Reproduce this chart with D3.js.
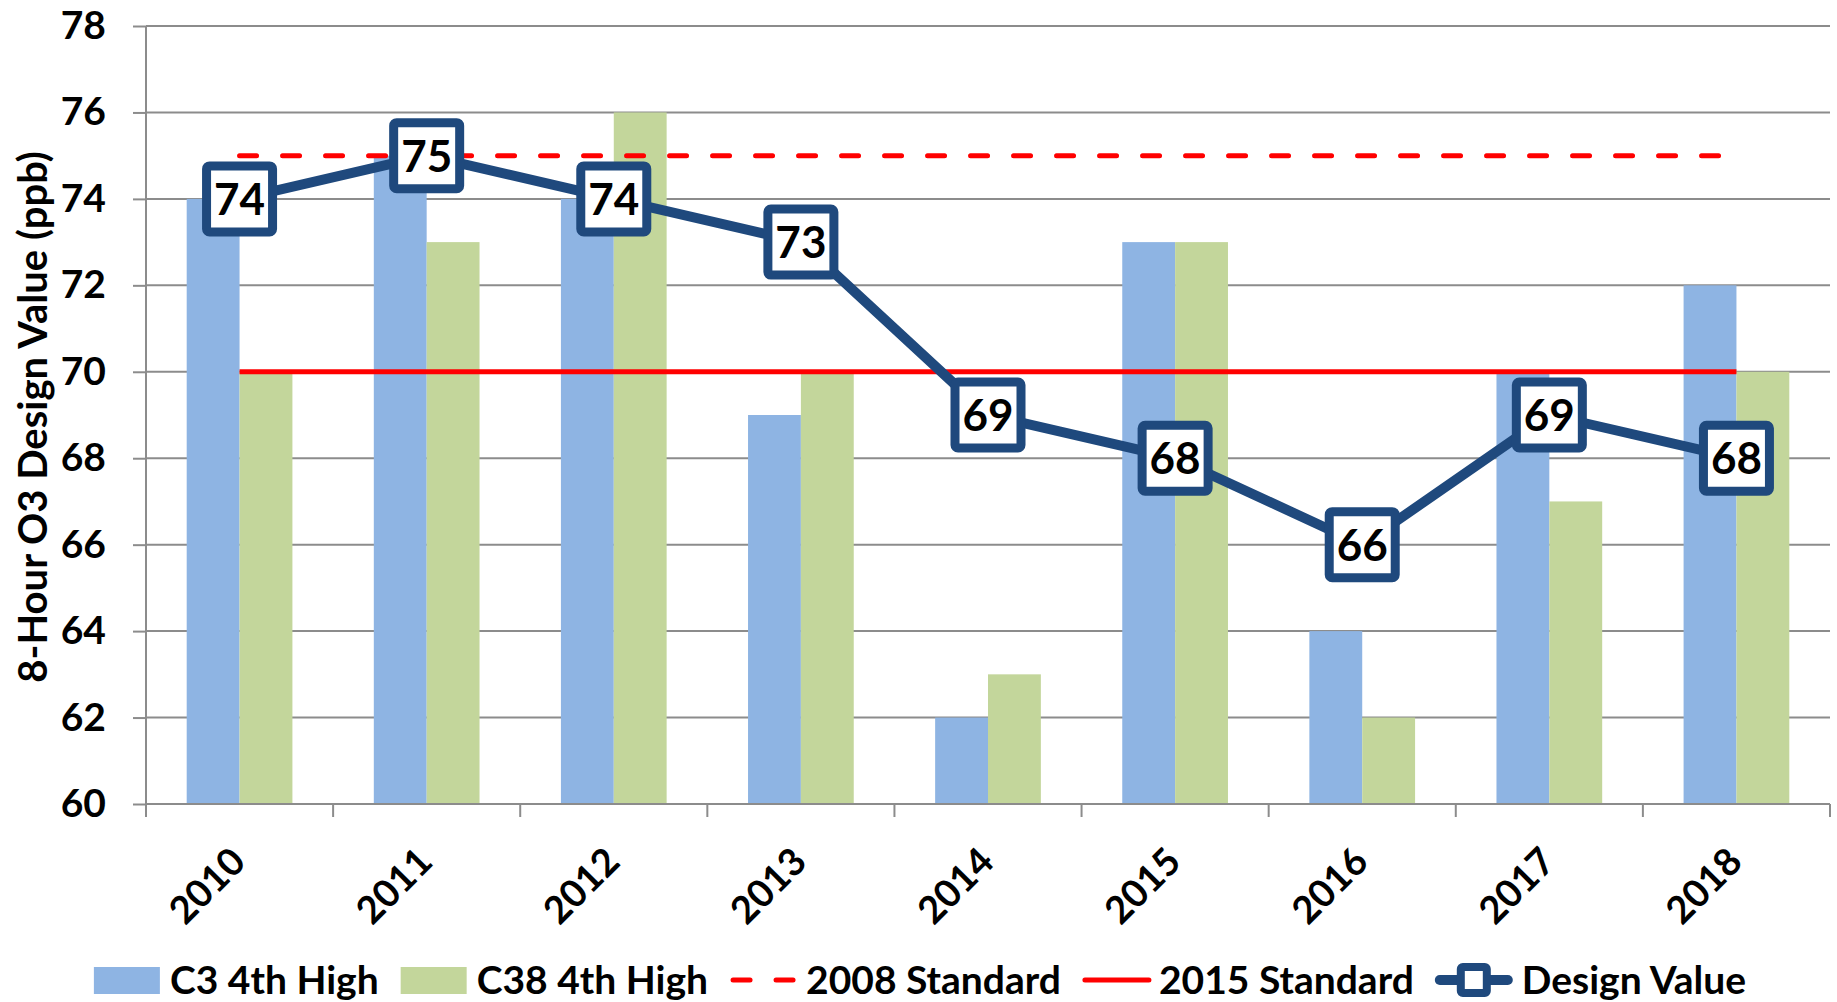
<!DOCTYPE html>
<html>
  <head>
    <meta charset="utf-8">
    <title>8-Hour O3 Design Value</title>
    <script src="https://cdn.jsdelivr.net/npm/d3@7/dist/d3.min.js"></script>
    <style>
      body { margin: 0; background: #fff; }
      svg { display: block; font-family: Lato, "Open Sans", sans-serif; font-weight: bold; }
      .grid line { stroke: #8c8c8c; stroke-width: 2; }
      .axis path, .axis line { stroke: #8c8c8c; stroke-width: 2; }
    </style>
  </head>
  <body>
    <svg id="chart"></svg>
    <script>
// chart data
var years = ["2010", "2011", "2012", "2013", "2014", "2015", "2016", "2017", "2018"];
var c3 = [74, 75, 74, 69, 62, 73, 64, 70, 72];
var c38 = [70, 73, 76, 70, 63, 73, 62, 67, 70];
var designValue = [74, 75, 74, 73, 69, 68, 66, 69, 68];
var std2008 = 75;
var std2015 = 70;
var yTicks = [60, 62, 64, 66, 68, 70, 72, 74, 76, 78];

var W = 1837, H = 1002;
var margin = {top: 26, right: 7, bottom: 198, left: 146};
var width = W - margin.left - margin.right,
    height = H - margin.top - margin.bottom;

var blue = "#8eb4e3", green = "#c3d69b", red = "#ff0000", navy = "#1f497d";

var svg = d3.select("#chart").attr("width", W).attr("height", H);
var g = svg.append("g").attr("transform", "translate(" + margin.left + "," + margin.top + ")");

var x = d3.scaleBand().domain(years).range([0, width]);
var xs = d3.scaleBand().domain(["c3", "c38"]).range([x.bandwidth() * 0.2175, x.bandwidth() * 0.7825]);
var y = d3.scaleLinear().domain([60, 78]).range([height, 0]);

// horizontal gridlines
g.append("g").attr("class", "grid")
  .selectAll("line").data(yTicks.slice(1)).enter().append("line")
    .attr("x1", 0).attr("x2", width)
    .attr("y1", d => y(d)).attr("y2", d => y(d));

// bars
var rows = years.map(function(yr, i) { return {year: yr, c3: c3[i], c38: c38[i]}; });
var grp = g.selectAll(".yr").data(rows).enter().append("g")
    .attr("transform", d => "translate(" + x(d.year) + ",0)");
grp.selectAll("rect").data(d => [{k: "c3", v: d.c3}, {k: "c38", v: d.c38}]).enter().append("rect")
    .attr("x", d => xs(d.k))
    .attr("width", xs.bandwidth())
    .attr("y", d => y(d.v))
    .attr("height", d => height - y(d.v))
    .attr("fill", d => d.k == "c3" ? blue : green);

// axes
var yAxis = g.append("g").attr("class", "axis")
  .call(d3.axisLeft(y).tickValues(yTicks).tickSize(13).tickSizeOuter(0).tickPadding(27));
yAxis.selectAll("text").attr("font-size", 39).attr("font-weight", "bold").attr("fill", "#000").attr("font-family", "Lato");
yAxis.select(".domain").attr("d", "M0," + height + "V" + y(78));

var xAxis = g.append("g").attr("class", "axis")
  .attr("transform", "translate(0," + height + ")");
xAxis.append("line").attr("x1", 0).attr("x2", width);
xAxis.selectAll(".tk").data(d3.range(years.length + 1)).enter().append("line")
    .attr("x1", d => d * x.step()).attr("x2", d => d * x.step())
    .attr("y1", 0).attr("y2", 13);
xAxis.selectAll("text").data(years).enter().append("text")
    .attr("transform", d => "translate(" + (x(d) + x.bandwidth() / 2 + 8) + ",60) rotate(-45)")
    .attr("text-anchor", "end")
    .attr("font-size", 38)
    .text(d => d);

// standards
var xc = d => x(d) + x.bandwidth() / 2;
g.append("line")
    .attr("x1", xc(years[0])).attr("x2", xc(years[years.length - 1]))
    .attr("y1", y(std2015)).attr("y2", y(std2015))
    .attr("stroke", red).attr("stroke-width", 5);
g.append("line")
    .attr("x1", xc(years[0])).attr("x2", xc(years[years.length - 1]))
    .attr("y1", y(std2008)).attr("y2", y(std2008))
    .attr("stroke", red).attr("stroke-width", 5)
    .attr("stroke-dasharray", "17,26").attr("stroke-linecap", "round");

// design value line
var line = d3.line().x((d, i) => xc(years[i])).y(d => y(d));
g.append("path").datum(designValue)
    .attr("d", line).attr("fill", "none")
    .attr("stroke", navy).attr("stroke-width", 10).attr("stroke-linejoin", "round");

var box = 66;
var mk = g.selectAll(".mk").data(designValue).enter().append("g")
    .attr("transform", (d, i) => "translate(" + xc(years[i]) + "," + y(d) + ")");
mk.append("rect")
    .attr("x", -box / 2).attr("y", -box / 2).attr("width", box).attr("height", box)
    .attr("rx", 3)
    .attr("fill", "#fff").attr("stroke", navy).attr("stroke-width", 9);
mk.append("text")
    .attr("text-anchor", "middle").attr("dy", "0.36em")
    .attr("font-size", 44)
    .text(d => d);

// y axis title
svg.append("text")
    .attr("transform", "translate(33," + (margin.top + height / 2 + 2) + ") rotate(-90)")
    .attr("text-anchor", "middle").attr("dy", "0.36em")
    .attr("font-size", 40)
    .text("8-Hour O3 Design Value (ppb)");

// legend
var legendItems = [
  {label: "C3 4th High", type: "bar", color: blue},
  {label: "C38 4th High", type: "bar", color: green},
  {label: "2008 Standard", type: "dash", color: red},
  {label: "2015 Standard", type: "solid", color: red},
  {label: "Design Value", type: "marker", color: navy}
];
var gap = 22;
var legend = svg.append("g");
var lx = 0;
var items = legend.selectAll(".lg").data(legendItems).enter().append("g");
items.each(function(d) {
  var it = d3.select(this);
  var sw = d.type == "marker" ? 76 : 66;
  if (d.type == "bar") {
    it.append("rect").attr("x", 0).attr("y", -13).attr("width", sw).attr("height", 27).attr("fill", d.color);
  } else if (d.type == "dash") {
    it.append("line").attr("x1", 3).attr("x2", 66).attr("y1", 0).attr("y2", 0)
      .attr("stroke", d.color).attr("stroke-width", 5).attr("stroke-linecap", "round")
      .attr("stroke-dasharray", "17,26");
  } else if (d.type == "solid") {
    it.append("line").attr("x1", 2).attr("x2", 66).attr("y1", 0).attr("y2", 0)
      .attr("stroke", d.color).attr("stroke-width", 5).attr("stroke-linecap", "round");
  } else {
    it.append("line").attr("x1", 4).attr("x2", 72).attr("y1", 0).attr("y2", 0)
      .attr("stroke", d.color).attr("stroke-width", 10).attr("stroke-linecap", "round");
    it.append("rect").attr("x", 25).attr("y", -13).attr("width", 26).attr("height", 26).attr("rx", 2)
      .attr("fill", "#fff").attr("stroke", d.color).attr("stroke-width", 8);
  }
  var t = it.append("text").attr("x", sw + 10).attr("dy", "0.36em").attr("font-size", 39).text(d.label);
  d.w = sw + 10 + t.node().getComputedTextLength();
});
items.attr("transform", function(d) { var p = lx; lx += d.w + gap; return "translate(" + p + ",0)"; });
var total = lx - gap;
legend.attr("transform", "translate(" + (920 - total / 2) + ",980)");
    </script>
  </body>
</html>
